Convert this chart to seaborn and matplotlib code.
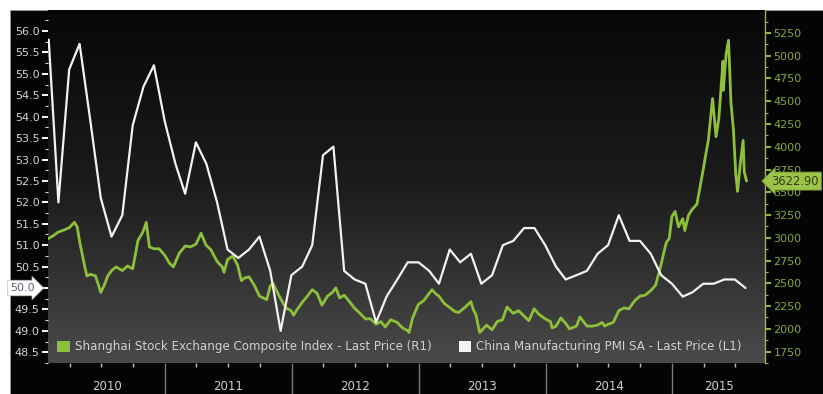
import numpy as np
import pandas as pd
import matplotlib
matplotlib.use("Agg")
import matplotlib.pyplot as plt
import matplotlib.dates as mdates
import matplotlib.transforms as mtransforms
from matplotlib.patches import Rectangle, Patch
from matplotlib.colors import LinearSegmentedColormap
import seaborn as sns

# ---------------- data ----------------
pmi_values = [
    55.8, 52.0, 55.1, 55.7, 53.9, 52.1, 51.2, 51.7, 53.8, 54.7, 55.2, 53.9,
    52.9, 52.2, 53.4, 52.9, 52.0, 50.9, 50.7, 50.9, 51.2, 50.4, 49.0, 50.3,
    50.5, 51.0, 53.1, 53.3, 50.4, 50.2, 50.1, 49.2, 49.8, 50.2, 50.6, 50.6,
    50.4, 50.1, 50.9, 50.6, 50.8, 50.1, 50.3, 51.0, 51.1, 51.4, 51.4, 51.0,
    50.5, 50.2, 50.3, 50.4, 50.8, 51.0, 51.7, 51.1, 51.1, 50.8, 50.3, 50.1,
    49.8, 49.9, 50.1, 50.1, 50.2, 50.2, 50.0,
]
pmi_dates = pd.date_range("2010-01-01", periods=len(pmi_values), freq="MS") + pd.offsets.MonthEnd(0)

sh_dates = [
    "2010-01-29", "2010-02-12", "2010-02-26", "2010-03-12", "2010-03-31", "2010-04-15", "2010-04-23",
    "2010-04-30", "2010-05-14", "2010-05-21", "2010-05-31", "2010-06-15", "2010-06-30", "2010-07-09",
    "2010-07-20", "2010-07-31", "2010-08-13", "2010-08-31", "2010-09-15", "2010-09-30", "2010-10-15",
    "2010-10-29", "2010-11-08", "2010-11-17", "2010-11-30", "2010-12-15", "2010-12-31",
    "2011-01-14", "2011-01-25", "2011-02-11", "2011-02-28", "2011-03-15", "2011-03-31", "2011-04-15",
    "2011-04-29", "2011-05-13", "2011-05-31", "2011-06-15", "2011-06-20", "2011-06-30", "2011-07-15",
    "2011-07-29", "2011-08-09", "2011-08-19", "2011-08-31", "2011-09-15", "2011-09-30", "2011-10-21",
    "2011-10-31", "2011-11-08", "2011-11-18", "2011-11-30", "2011-12-15", "2011-12-30",
    "2012-01-06", "2012-01-16", "2012-01-31", "2012-02-15", "2012-02-29", "2012-03-14", "2012-03-28",
    "2012-04-13", "2012-04-27", "2012-05-07", "2012-05-18", "2012-05-31", "2012-06-15", "2012-06-29",
    "2012-07-13", "2012-07-31", "2012-08-15", "2012-08-31", "2012-09-14", "2012-09-26", "2012-10-12",
    "2012-10-31", "2012-11-15", "2012-11-30", "2012-12-04", "2012-12-14", "2012-12-31",
    "2013-01-15", "2013-01-31", "2013-02-08", "2013-02-20", "2013-02-28", "2013-03-15", "2013-03-29",
    "2013-04-15", "2013-04-26", "2013-05-15", "2013-05-31", "2013-06-07", "2013-06-14", "2013-06-25",
    "2013-06-30", "2013-07-15", "2013-07-31", "2013-08-15", "2013-08-30", "2013-09-12", "2013-09-30",
    "2013-10-15", "2013-10-31", "2013-11-14", "2013-11-29", "2013-12-13", "2013-12-31",
    "2014-01-15", "2014-01-20", "2014-01-31", "2014-02-14", "2014-02-28", "2014-03-11", "2014-03-31",
    "2014-04-10", "2014-04-30", "2014-05-15", "2014-05-30", "2014-06-13", "2014-06-20", "2014-06-30",
    "2014-07-15", "2014-07-31", "2014-08-15", "2014-08-29", "2014-09-15", "2014-09-30", "2014-10-15",
    "2014-10-31", "2014-11-14", "2014-11-28", "2014-12-09", "2014-12-15", "2014-12-23", "2014-12-31",
    "2015-01-09", "2015-01-19", "2015-01-31", "2015-02-06", "2015-02-17", "2015-02-27", "2015-03-13",
    "2015-03-31", "2015-04-15", "2015-04-27", "2015-05-07", "2015-05-15", "2015-05-27", "2015-05-28",
    "2015-06-05", "2015-06-12", "2015-06-19", "2015-06-26", "2015-07-03", "2015-07-08", "2015-07-16",
    "2015-07-24", "2015-07-27", "2015-08-03",
]
sh_values = [
    2990, 3020, 3060, 3080, 3110, 3170, 3120,
    2960, 2700, 2580, 2600, 2580, 2400, 2470,
    2580, 2640, 2680, 2640, 2690, 2660, 2970,
    3060, 3170, 2900, 2880, 2880, 2810,
    2720, 2680, 2830, 2910, 2900, 2930, 3050,
    2920, 2870, 2740, 2680, 2620, 2760, 2800,
    2700, 2530, 2560, 2570, 2480, 2360, 2320,
    2470, 2500, 2420, 2330, 2230, 2200,
    2150, 2210, 2290, 2360, 2430, 2390, 2260,
    2360, 2400, 2450, 2340, 2370, 2300, 2230,
    2180, 2110, 2110, 2050, 2080, 2020, 2100,
    2070, 2010, 1980, 1960, 2120, 2270,
    2310, 2390, 2430, 2380, 2360, 2280, 2240,
    2190, 2180, 2240, 2300, 2210, 2160, 1960,
    1980, 2040, 1990, 2080, 2100, 2240, 2170,
    2200, 2140, 2090, 2220, 2160, 2110,
    2080, 2010, 2030, 2120, 2060, 2000, 2030,
    2130, 2030, 2030, 2040, 2070, 2030, 2050,
    2070, 2200, 2230, 2220, 2310, 2360, 2370,
    2420, 2480, 2680, 2860, 2950, 2990, 3235,
    3290, 3120, 3210, 3080, 3250, 3310, 3370,
    3750, 4080, 4530, 4110, 4310, 4940, 4620,
    5020, 5170, 4480, 4190, 3690, 3510, 3820,
    4070, 3725, 3623,
]

years = [2010, 2011, 2012, 2013, 2014, 2015]
left_ticks = [48.5, 49.0, 49.5, 50.0, 50.5, 51.0, 51.5, 52.0, 52.5, 53.0, 53.5, 54.0, 54.5, 55.0, 55.5, 56.0]
right_ticks = [1750, 2000, 2250, 2500, 2750, 3000, 3250, 3500, 3750, 4000, 4250, 4500, 4750, 5000, 5250]
sh_label = "Shanghai Stock Exchange Composite Index - Last Price (R1)"
pmi_label = "China Manufacturing PMI SA - Last Price (L1)"
sh_last_text = "3622.90"
pmi_last_text = "50.0"

pmi_df = pd.DataFrame({"date": pmi_dates, "pmi": pmi_values})
sh_df = pd.DataFrame({"date": pd.to_datetime(sh_dates), "shcomp": sh_values})

# ---------------- style ----------------
sns.set_theme(style="white")
plt.rcParams["font.family"] = ["DejaVu Sans"]

GREEN = "#8fbf3a"
WHITE = "#f2f2f2"
W, H = 823, 394

fig = plt.figure(figsize=(W / 100, H / 100), dpi=100)
fig.patch.set_facecolor("white")
fig.patches.append(Rectangle((10 / W, 0), 1 - 10 / W, 1 - 9.5 / H, transform=fig.transFigure,
                             facecolor="#040404", edgecolor="#9a9a9a", lw=0.6, zorder=-10))

pos = [48 / W, 1 - 363 / H, (765 - 48) / W, (363 - 10) / H]
bg = fig.add_axes(pos, zorder=0)
grad = np.linspace(0, 1, 256).reshape(-1, 1)
cmap = LinearSegmentedColormap.from_list("bg", ["#070707", "#1c1c1c", "#4a4a4a"])
bg.imshow(grad, aspect="auto", cmap=cmap, extent=[0, 1, 0, 1], origin="upper")
bg.axis("off")

ax = fig.add_axes(pos, zorder=2)
ax.patch.set_alpha(0)
ax2 = ax.twinx()
ax2.set_zorder(1)
ax2.patch.set_visible(False)

sns.lineplot(data=sh_df, x="date", y="shcomp", ax=ax2, color=GREEN, lw=2.0, legend=False)
sns.lineplot(data=pmi_df, x="date", y="pmi", ax=ax, color=WHITE, lw=1.6, legend=False)

x0, x1 = pd.Timestamp("2010-01-29"), pd.Timestamp("2015-09-25")
ax.set_xlim(x0, x1)
ax.set_ylim(48.28, 56.49)
ax2.set_ylim(1640, 5502)

for a in (ax, ax2):
    a.set_xlabel("")
    a.set_ylabel("")
    for s in a.spines.values():
        s.set_visible(False)
ax2.spines["right"].set_visible(True)
ax2.spines["right"].set_color(GREEN)
ax2.spines["right"].set_linewidth(1.0)

# left axis
ax.set_yticks(left_ticks)
ax.set_yticks(np.arange(48.25, 56.3, 0.25), minor=True)
ax.set_yticklabels(["" if v == 50.0 else f"{v:.1f}" for v in left_ticks])
ax.tick_params(axis="y", which="major", left=True, length=4, width=1.4, color="white",
               labelsize=8, labelcolor="#d6d6d6", pad=2)
ax.tick_params(axis="y", which="minor", left=True, length=2, width=0.8, color="#dddddd")

# right axis
ax2.set_yticks(right_ticks)
ax2.set_yticks(np.arange(1625, 5400, 125), minor=True)
ax2.set_yticklabels([str(v) for v in right_ticks])
ax2.tick_params(axis="y", which="major", right=True, length=4, width=1.4, color=GREEN,
                labelsize=8, labelcolor="#86a83a", pad=2)
ax2.tick_params(axis="y", which="minor", right=True, length=2, width=0.8, color=GREEN)

# x axis
ax.xaxis.set_major_locator(mdates.YearLocator())
ax.xaxis.set_minor_locator(mdates.MonthLocator(bymonth=(4, 7, 10)))
ax.tick_params(axis="x", which="major", bottom=True, length=23, width=1.0, color="#7a7a7a",
               labelbottom=False)
ax.tick_params(axis="x", which="minor", bottom=True, length=3, width=1.0, color="#bdbdbd")

trans = mtransforms.blended_transform_factory(ax.transData, ax.transAxes)
for yr in years:
    s = max(pd.Timestamp(f"{yr}-01-01"), x0)
    e = min(pd.Timestamp(f"{yr + 1}-01-01"), x1)
    c = s + (e - s) / 2
    ax.text(mdates.date2num(c), -0.066, str(yr), transform=trans, ha="center", va="center",
            fontsize=8.5, color="#d0d0d0", clip_on=False)

# last-value tags
tl = mtransforms.blended_transform_factory(ax.transAxes, ax.transData)
ax.text(-0.018, pmi_values[-1], pmi_last_text, transform=tl, ha="right", va="center", fontsize=8,
        color="#5b6275", clip_on=False,
        bbox=dict(boxstyle="rarrow,pad=0.25", fc="white", ec="#bbbbbb", lw=0.5))
tr = mtransforms.blended_transform_factory(ax2.transAxes, ax2.transData)
ax2.text(1.009, sh_values[-1], sh_last_text, transform=tr, ha="left", va="center", fontsize=8.3,
         color="#2e3d10", clip_on=False, zorder=10,
         bbox=dict(boxstyle="larrow,pad=0.22", fc="#9cc44a", ec="#6d8f26", lw=0.6))

# legend
handles = [Patch(facecolor=GREEN, edgecolor="none"), Patch(facecolor=WHITE, edgecolor="none")]
leg = ax.legend(handles, [sh_label, pmi_label], ncol=2, loc="lower left",
                bbox_to_anchor=(0.013, 0.028), frameon=False, fontsize=8.6, labelcolor="#d0d0d0",
                handlelength=1.05, handleheight=1.05, handletextpad=0.4, columnspacing=2.3,
                borderaxespad=0, borderpad=0)

fig.savefig("out.png", dpi=100, facecolor=fig.get_facecolor())
